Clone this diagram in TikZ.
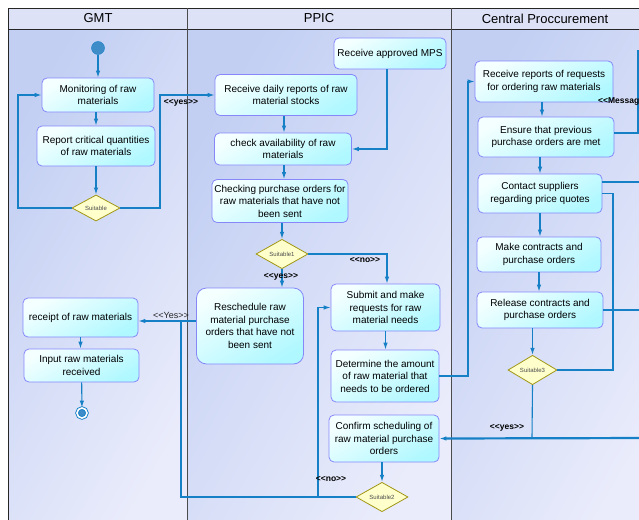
\documentclass[tikz,border=0pt]{standalone}
\usepackage{fontspec}
\setmainfont{Liberation Sans}
\usepackage{tikz}
\usetikzlibrary{arrows.meta,shapes.geometric}
\definecolor{laneA}{RGB}{194,207,243}
\definecolor{laneB}{RGB}{234,236,251}
\definecolor{headc}{RGB}{221,226,247}
\definecolor{acttop}{RGB}{244,255,255}
\definecolor{actbot}{RGB}{176,248,255}
\definecolor{actline}{RGB}{135,135,250}
\definecolor{decfill}{RGB}{255,255,204}
\definecolor{decline}{RGB}{160,150,20}
\definecolor{flowc}{RGB}{22,128,198}
\definecolor{startc}{RGB}{62,140,200}
\newcommand{\gd}[1]{<\kern0pt<#1>\kern0pt>}

\begin{document}
\begin{tikzpicture}[x=1pt,y=-1pt,
   act/.style={draw=actline,line width=0.8pt,rounded corners=5pt,top color=acttop,bottom color=actbot,
               shading angle=30,align=center,inner sep=1pt,font=\fontsize{10}{12.5}\selectfont},
   dec/.style={diamond,draw=decline,line width=0.8pt,fill=decfill,inner sep=0pt,
               text=black!70,font=\fontsize{6}{7}\selectfont},
   flow/.style={draw=flowc,line width=1.1pt,-{Latex[length=7pt,width=4.5pt]}},
   link/.style={draw=flowc,line width=1.1pt},
   guard/.style={font=\fontsize{8.5}{10}\selectfont\bfseries,inner sep=0pt},
   lanehead/.style={font=\fontsize{13}{15}\selectfont}]
       \clip (0,0) rectangle (639,519);
       \fill[white] (0,0) rectangle (639,519);
       \shade[top color=laneA,bottom color=laneB,shading angle=60] (8,29) rectangle (187,530);
       \shade[top color=laneA,bottom color=laneB,shading angle=60] (187,29) rectangle (451,530);
       \shade[top color=laneA,bottom color=laneB,shading angle=60] (451,29) rectangle (660,530);
       \fill[headc] (8,8) rectangle (660,29);
       \draw[black!85,line width=0.8pt] (8,530) |- (660,8);
       \draw[black!85,line width=0.8pt] (8,29) -- (660,29);
       \draw[black!70,line width=0.8pt] (187,8) -- (187,530);
       \draw[black!70,line width=0.8pt] (451,8) -- (451,530);
       \node[lanehead] (gmtHead)  at (98,18.5)  {GMT};
       \node[lanehead] (ppicHead) at (319,18.5) {PPIC};
       \node[lanehead] (cpHead)   at (545,18.5) {Central Proccurement};

       % GMT
       \node[circle,draw=flowc,fill=startc,minimum size=13pt,inner sep=0pt] (start) at (98,48) {};
       \node[act,minimum width=112pt,minimum height=34pt] (Monitoring) at (98,95)  {Monitoring of raw\\materials};
       \node[act,minimum width=118pt,minimum height=40pt] (Report)     at (96,146) {Report critical quantities\\of raw materials};
       \node[dec,minimum width=48pt,minimum height=25pt]  (Suitable)   at (96,208) {Suitable};
       \node[act,minimum width=115pt,minimum height=39pt] (receipt)    at (80.5,317.5) {receipt of raw materials};
       \node[act,minimum width=115pt,minimum height=33pt] (Input)      at (81.5,365.5) {Input raw materials\\received};
       \node[circle,draw=flowc,double=white,double distance=1.6pt,line width=0.9pt,fill=startc,
             minimum size=10pt,inner sep=0pt] (finish) at (82,413) {};

       % PPIC
       \node[act,minimum width=112pt,minimum height=31pt] (MPS)        at (390,53.5) {Receive approved MPS};
       \node[act,minimum width=142pt,minimum height=41pt] (Daily)      at (286,95)  {Receive daily reports of raw\\material stocks};
       \node[act,minimum width=137pt,minimum height=32pt] (check)      at (283,149) {check availability of raw\\materials};
       \node[act,minimum width=136pt,minimum height=43pt] (Checking)   at (280,201) {Checking purchase orders for\\raw materials that have not\\been sent};
       \node[dec,minimum width=52pt,minimum height=26pt]  (Suitable1)  at (282,254) {Suitable1};
       \node[act,rounded corners=10pt,minimum width=107pt,minimum height=76pt] (Reschedule) at (250,326) {Reschedule raw\\material purchase\\orders that have not\\been sent};
       \node[act,minimum width=109pt,minimum height=47pt] (Submit)     at (385.5,307.5) {Submit and make\\requests for raw\\material needs};
       \node[act,minimum width=108pt,minimum height=52pt] (Determine)  at (385,376) {Determine the amount\\of raw material that\\needs to be ordered};
       \node[act,minimum width=110pt,minimum height=47pt] (Confirm)    at (384,438.5) {Confirm scheduling of\\raw material purchase\\orders};
       \node[dec,minimum width=52pt,minimum height=25pt]  (Suitable2)  at (382,497) {Suitable2};

       % Central Proccurement
       \node[act,minimum width=138pt,minimum height=41pt] (Receive)    at (544,81.5) {Receive reports of requests\\for ordering raw materials};
       \node[act,minimum width=136pt,minimum height=40pt] (Ensure)     at (546,137) {Ensure that previous\\purchase orders are met};
       \node[act,minimum width=124pt,minimum height=39pt] (Contact)    at (540,193.5) {Contact suppliers\\regarding price quotes};
       \node[act,minimum width=124pt,minimum height=35pt] (Make)       at (539,254.5) {Make contracts and\\purchase orders};
       \node[act,minimum width=126pt,minimum height=36pt] (Release)    at (540,310) {Release contracts and\\purchase orders};
       \node[dec,minimum width=49pt,minimum height=28pt]  (Suitable3)  at (532.5,370) {Suitable3};

       \coordinate (loopA)  at (18,208);
       \coordinate (loopB)  at (160,208);
       \coordinate (toCP)   at (468,376);
       \coordinate (msgR)   at (638,50);
       \coordinate (offA)   at (650,182);
       \coordinate (backC)  at (613,370);
       \coordinate (offB)   at (650,310);
       \coordinate (yesJoin) at (532,438);
       \coordinate (offC)   at (650,438);
       \coordinate (noB)    at (318,497);
       \coordinate (yesC)   at (181,497);
       \coordinate (yesCtop) at (181,321);

       \draw[flow] (start) -- (Monitoring);
       \draw[flow] (Monitoring.south -| Report) -- (Report);
       \draw[flow] (Report) -- (Suitable);
       \draw[flow] (Suitable.west) -- (loopA) |- (Monitoring.west);
       \draw[flow] (Suitable.east) -- (loopB) |- (Daily.west);
       \draw[flow] (receipt) -- (receipt |- Input.north);
       \draw[flow] (Input) -- (finish);

       \draw[flow] ([xshift=-2pt]Daily.south) -- ([xshift=-2pt]Daily.south |- check.north);
       \draw[flow] ([xshift=1pt]check.south) -- ([xshift=1pt]check.south |- Checking.north);
       \draw[flow] (Checking.south -| Suitable1) -- (Suitable1);
       \draw[flow] ([xshift=-3pt]MPS.south) |- (check.east);
       \draw[flow] (Suitable1) -- (Suitable1 |- Reschedule.north);
       \draw[flow] (Suitable1.east) -| ([xshift=1.5pt]Submit.north);
       \draw[flow] (Submit) -- (Submit |- Determine.north);
       \draw[flow] (Determine.east) -- (toCP) |- (Receive.west);
       \draw[flow] (Confirm.south -| Suitable2) -- (Suitable2);
       \draw[flow] (Suitable2.west) -- (noB) |- (Submit.west);
       \draw[link] (noB) -- (yesC) -- (yesCtop);
       \draw[flow] ([yshift=5pt]Reschedule.west) -- ([yshift=-3.5pt]receipt.east);

       \draw[flow] ([xshift=-2pt]Receive.south) -- ([xshift=-2pt]Receive.south |- Ensure.north);
       \draw[flow] (Contact |- Ensure.south) -- (Contact);
       \draw[flow] (Contact) -- (Contact |- Make.north);
       \draw[flow] (Make) -- (Make |- Release.north);
       \draw[flow] (Suitable3 |- Release.south) -- (Suitable3);
       \draw[link] ([yshift=4pt]Ensure.east) -| (msgR);
       \draw[link] ([yshift=11.5pt]Contact.east) -- (offA);
       \draw[link] (Suitable3.east) -- (backC) |- (Contact.east);
       \draw[link] (Release.east) -- (offB);
       \draw[link] (Suitable3.south) -- (yesJoin);
       \draw[flow,line width=2.2pt] (offC) -- (Confirm.east);

       \node[guard] (yesA) at (181,103) {\gd{yes}};
       \node[guard] (yesB) at (281,277) {\gd{yes}};
       \node[guard] (noA)  at (365,260) {\gd{no}};
       \node[inner sep=0pt,text=black!85,font=\fontsize{9}{10}\selectfont] (yesD) at (171,315) {\gd{Yes}};
       \node[guard] (noC)  at (331,479) {\gd{no}};
       \node[guard] (yesE) at (507,428) {\gd{yes}};
       \node[guard,anchor=west] (msg) at (598,101) {\gd{Message}};
\end{tikzpicture}
\end{document}
